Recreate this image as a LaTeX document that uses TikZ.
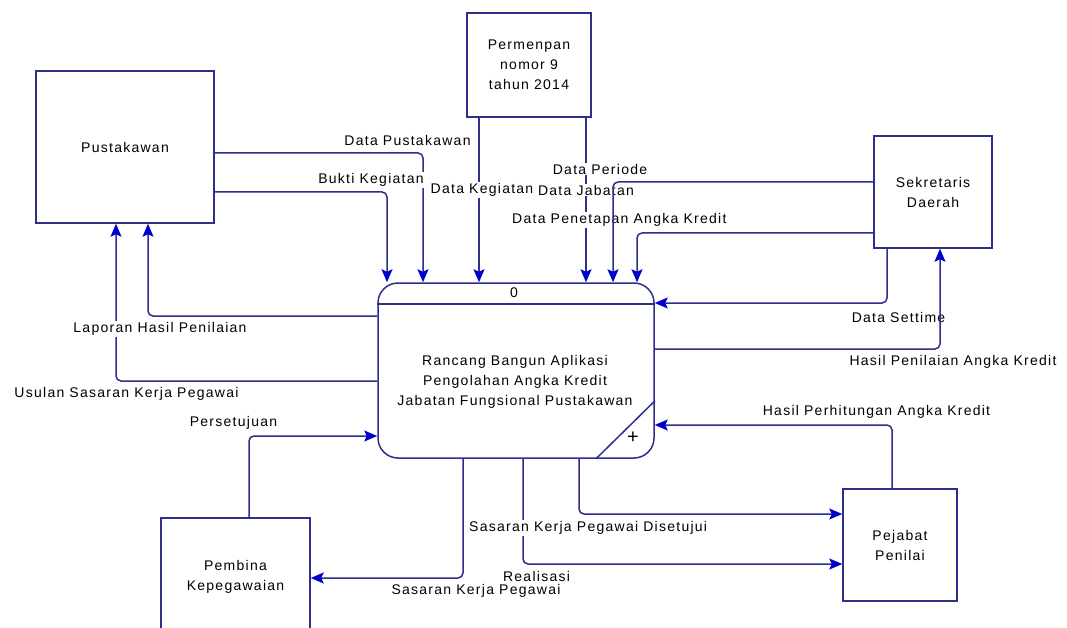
\documentclass[tikz,border=0pt]{standalone}
\usepackage{fontspec}
\setmainfont{Liberation Sans}[LetterSpace=9]
\usetikzlibrary{arrows.meta}
\definecolor{linenavy}{RGB}{46,46,140}
\definecolor{tipblue}{RGB}{0,0,205}
\newcommand\flowfont{\fontsize{14}{20}\selectfont}
\tikzset{
  entity/.style={draw=linenavy, line width=1.5pt, fill=white, align=center, inner sep=0pt},
  process/.style={draw=linenavy, line width=1.5pt, rounded corners=20pt, inner sep=0pt},
  flow/.style={draw=linenavy, line width=1.5pt,
    -{Stealth[length=13pt,width=11pt,inset=2.5pt,color=tipblue,fill=tipblue]}},
  elbow/.style={rounded corners=5pt},
  plain/.style={draw=linenavy, line width=1.5pt},
  lbl/.style={fill=white, inner sep=1pt},
}
\begin{document}
\begin{tikzpicture}[x=1pt, y=-1pt, font=\flowfont]
\clip (0,0) rectangle (1067,628);
\fill[white] (0,0) rectangle (1067,628);

% external entities
\node[entity, minimum width=178pt, minimum height=152pt] (pus) at (125,147) {Pustakawan};
\node[entity, minimum width=124pt, minimum height=104pt] (per) at (529,65) {Permenpan\\nomor 9\\tahun 2014};
\node[entity, minimum width=118pt, minimum height=112pt] (sek) at (933,192) {Sekretaris\\Daerah};
\node[entity, minimum width=114pt, minimum height=112pt] (pej) at (900,545) {Pejabat\\Penilai};
\node[entity, minimum width=149pt, minimum height=118pt] (pem) at (235.5,577) {Pembina\\Kepegawaian};

% process 0
\node[process, minimum width=276pt, minimum height=175pt] (proc) at (516,370.5) {};
\draw[plain] ([yshift=66.5pt]proc.west) -- ([yshift=66.5pt]proc.east);
\draw[plain] ([yshift=-30.5pt]proc.east) -- ([xshift=80pt]proc.south);
\node (pnum) at (514,293) {0};
\node (ptext) at (515,382) [align=center] {Rancang Bangun Aplikasi\\Pengolahan Angka Kredit\\Jabatan Fungsional Pustakawan};
\node (pplus) at (633,438) {\fontsize{20}{20}\selectfont +};

% data flows (corners rounded, arrow tips kept sharp)
\draw[flow] ([yshift=-6pt]pus.east) [elbow] -| ([xshift=-93pt]proc.north) [sharp corners];
\draw[flow] ([yshift=-45pt]pus.east) [elbow] -| ([xshift=-129pt]proc.north) [sharp corners];
\draw[flow] ([xshift=-50pt]per.south) -- ([xshift=-37pt]proc.north);
\draw[flow] ([xshift=57pt]per.south) -- ([xshift=70pt]proc.north);
\draw[flow] ([yshift=-41pt]sek.west) [elbow] -| ([xshift=121pt]proc.north) [sharp corners];
\draw[flow] ([xshift=-53pt]proc.south) [elbow] |- ([yshift=-1pt]pem.east) [sharp corners];
\draw[flow] ([xshift=7pt]proc.south) [elbow] |- ([yshift=-19pt]pej.west) [sharp corners];
\draw[flow] ([xshift=63pt]proc.south) [elbow] |- ([yshift=31pt]pej.west) [sharp corners];
\draw[flow] ([xshift=-8pt]pej.north) [elbow] |- ([yshift=-54.5pt]proc.east) [sharp corners];
\draw[flow] ([xshift=13.5pt]pem.north) [elbow] |- ([yshift=-65.5pt]proc.west) [sharp corners];
\draw[flow] ([yshift=54.5pt]proc.west) [elbow] -| ([xshift=23pt]pus.south) [sharp corners];
\draw[flow] ([yshift=-10.5pt]proc.west) [elbow] -| ([xshift=-9pt]pus.south) [sharp corners];
\draw[flow] ([xshift=-46pt]sek.south) [elbow] |- ([yshift=67.5pt]proc.east) [sharp corners];

% flow labels
\node[lbl] (l1) at (407.5,140) {Data Pustakawan};
\node[lbl] (l2) at (371,180) {Bukti Kegiatan};
\node[lbl] (l3) at (482,190) {Data Kegiatan};
\node[lbl] (l4) at (586,190) {Data Jabatan};
\node[lbl] (l5) at (600,169) {Data Periode};
\node[lbl, anchor=west] (l6) at (511,220) {Data Penetapan Angka Kredit};
\node[lbl] (l7) at (898.5,317) {Data Settime};
\node[lbl] (l8) at (953,362) {Hasil Penilaian Angka Kredit};
\node[lbl] (l9) at (876.5,412) {Hasil Perhitungan Angka Kredit};
\node[lbl] (l10) at (160,329) {Laporan Hasil Penilaian};
\node[lbl] (l11) at (126.5,394) {Usulan Sasaran Kerja Pegawai};
\node[lbl] (l12) at (233.5,423) {Persetujuan};
\node[lbl, anchor=west] (l13) at (468,528) {Sasaran Kerja Pegawai Disetujui};
\node[lbl] (l14) at (536.5,576) {Realisasi};
\node[lbl] (l15) at (476,591) {Sasaran Kerja Pegawai};

% flows that run across their neighbours' labels
\draw[flow] ([yshift=10pt]sek.west) [elbow] -| ([xshift=97pt]proc.north) [sharp corners];
\draw[flow] ([yshift=21.5pt]proc.east) [elbow] -| ([xshift=7pt]sek.south) [sharp corners];
\end{tikzpicture}
\end{document}
